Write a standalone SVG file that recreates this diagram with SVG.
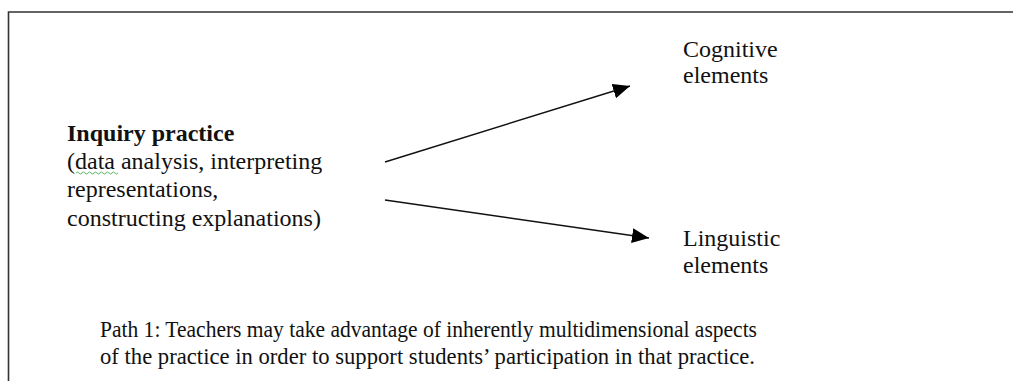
<svg xmlns="http://www.w3.org/2000/svg" width="1013" height="381" viewBox="0 0 1013 381">
  <style>
    .t { font-family: "Liberation Serif", "Times New Roman", serif; font-size: 24px; fill: #111; }
    .b { font-weight: bold; }
    .cap { font-size: 23px; }
    .conn { stroke: #111; stroke-width: 1.4; fill: none; }
  </style>
  <defs>
    <marker id="arr" markerUnits="userSpaceOnUse" markerWidth="18" markerHeight="16" refX="17" refY="7.5" orient="auto">
      <path d="M0,0 L17,7.5 L0,15 z" fill="#000"/>
    </marker>
  </defs>
  <rect width="1013" height="381" fill="#fff"/>
  <g id="frame">
    <path d="M8.5,381 L8.5,12 L1013,12" stroke="#333" stroke-width="1.6" fill="none"/>
  </g>
  <g id="inquiry">
    <text class="t b" x="67" y="141">Inquiry practice</text>
    <text class="t" x="67" y="169">(data analysis, interpreting</text>
    <text class="t" x="67" y="197">representations,</text>
    <text class="t" x="67" y="226">constructing explanations)</text>
    <path d="M76,173 q1.5,-2 3,0 t3,0 t3,0 t3,0 t3,0 t3,0 t3,0 t3,0 t3,0 t3,0 t3,0 t3,0 t3,0 t3,0" stroke="#4caf50" stroke-width="0.9" fill="none"/>
  </g>
  <g id="cognitive">
    <text class="t" x="683" y="57">Cognitive</text>
    <text class="t" x="683" y="83">elements</text>
  </g>
  <g id="linguistic">
    <text class="t" x="683" y="246">Linguistic</text>
    <text class="t" x="683" y="273">elements</text>
  </g>
  <g id="connectors">
    <line class="conn" x1="385" y1="162" x2="630" y2="86" marker-end="url(#arr)"/>
    <line class="conn" x1="385" y1="200" x2="649" y2="238" marker-end="url(#arr)"/>
  </g>
  <g id="caption">
    <text class="t cap" x="100" y="337" textLength="657" lengthAdjust="spacingAndGlyphs">Path 1: Teachers may take advantage of inherently multidimensional aspects</text>
    <text class="t cap" x="100" y="364" textLength="655" lengthAdjust="spacingAndGlyphs">of the practice in order to support students’ participation in that practice.</text>
  </g>
</svg>
